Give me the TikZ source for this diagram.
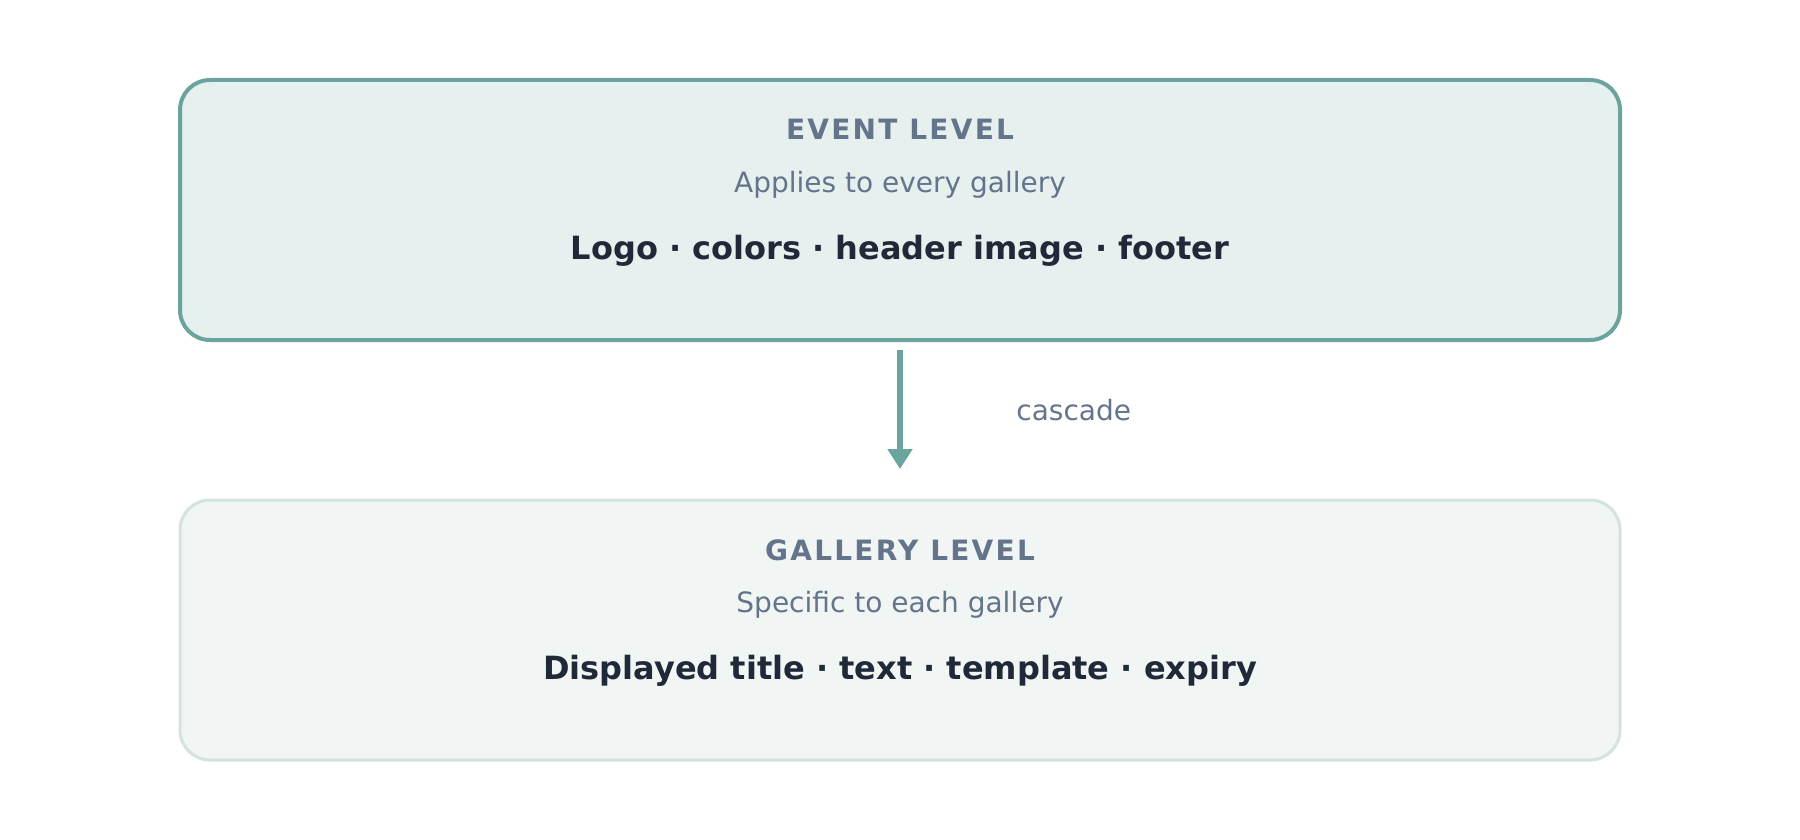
\documentclass[tikz,border=0pt]{standalone}
\usepackage{fontspec}
\setmainfont{DejaVu Sans}
\newfontfamily\capsfont[LetterSpace=8]{DejaVu Sans}
\usetikzlibrary{arrows.meta}
\definecolor{tealline}{HTML}{6BA39E}
\definecolor{eventfill}{HTML}{E6F0EF}
\definecolor{galleryfill}{HTML}{F1F5F4}
\definecolor{galleryline}{HTML}{D3E3DF}
\definecolor{slatetext}{HTML}{64748B}
\definecolor{darktext}{HTML}{1F2937}

\begin{document}
\begin{tikzpicture}[x=0.5pt,y=0.5pt]
\tikzstyle{every node}+=[inner sep=0pt]
\tikzstyle{levelbox}=[rounded corners=15pt, minimum width=720pt, minimum height=130pt, outer sep=0pt]
\tikzstyle{heading}=[anchor=base, text=slatetext, font=\capsfont\bfseries\fontsize{14}{16}\selectfont]
\tikzstyle{subline}=[anchor=base, text=slatetext, font=\fontsize{14}{16}\selectfont]
\tikzstyle{items}=[anchor=base, text=darktext, font=\bfseries\fontsize{16}{19}\selectfont]
\useasboundingbox (0,0) rectangle (1800,-840);
\node [levelbox, draw=tealline, line width=2pt, fill=eventfill] (event) at (900,-210) {};
\node [levelbox, draw=galleryline, line width=1.5pt, fill=galleryfill] (gallery) at (900,-630) {};
\node [heading] (eventhead) at (900,-140) {EVENT LEVEL};
\node [subline] (eventsub) at (900,-192) {Applies to every gallery};
\node [items] (eventitems) at (900,-259) {Logo · colors · header image · footer};
\node [heading] (galleryhead) at (900,-560) {GALLERY LEVEL};
\node [subline] (gallerysub) at (900,-612) {Specific to each gallery};
\node [items] (galleryitems) at (900,-679) {Displayed title · text · template · expiry};
\draw [tealline, line width=3pt, -{Triangle[width=12pt,length=10pt]}, shorten <=5pt, shorten >=15.5pt] (event) -- (gallery);
\node [anchor=base west, text=slatetext, font=\fontsize{14}{16}\selectfont] (cascade) at (1016,-420) {cascade};
\end{tikzpicture}
\end{document}
